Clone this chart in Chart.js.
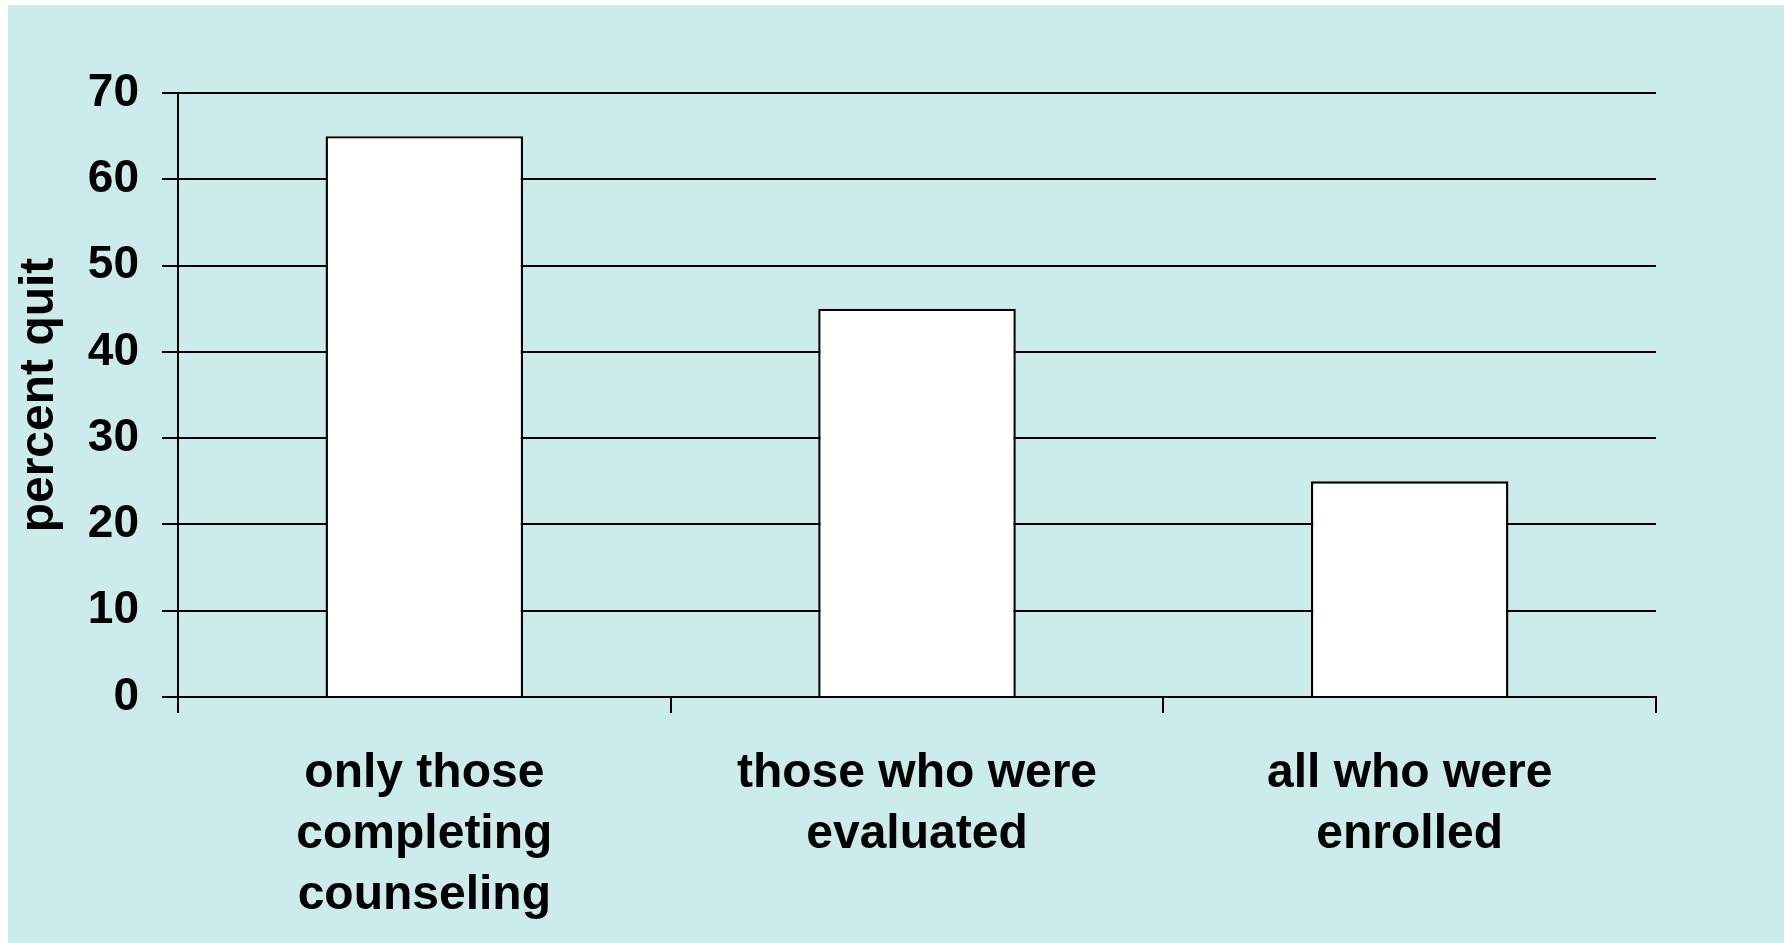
<!DOCTYPE html>
<html>
<head>
<meta charset="utf-8">
<title>percent quit</title>
<script src="https://cdn.jsdelivr.net/npm/chart.js@4/dist/chart.umd.min.js"></script>
<style>
  html, body { margin: 0; padding: 0; background: #ffffff; }
  canvas { display: block; }
</style>
</head>
<body>
<canvas id="chart" width="1784" height="943"></canvas>
<script>
// Quit rates by which participants are counted
const categories = [
  ['only those', 'completing', 'counseling'],
  ['those who were', 'evaluated'],
  ['all who were', 'enrolled']
];
const percentQuit = [65, 45, 25];
const yTicks = [0, 10, 20, 30, 40, 50, 60, 70];

const FONT = '"Liberation Sans", Arial, Helvetica, sans-serif';
const PANEL = 'rgb(204, 236, 236)';
const LINE = '#000000';

// Light panel behind the whole chart
const panelBackground = {
  id: 'panelBackground',
  beforeDraw(chart) {
    const { ctx, width, height } = chart;
    ctx.save();
    ctx.fillStyle = '#ffffff';
    ctx.fillRect(0, 0, width, height);
    ctx.fillStyle = PANEL;
    ctx.fillRect(8, 5, width - 8, height - 5);
    ctx.restore();
  }
};

new Chart(document.getElementById('chart'), {
  type: 'bar',
  data: {
    labels: categories,
    datasets: [{
      data: percentQuit,
      backgroundColor: '#ffffff',
      borderColor: LINE,
      borderWidth: 2.4,
      barPercentage: 0.401,
      categoryPercentage: 1.0
    }]
  },
  options: {
    responsive: false,
    devicePixelRatio: 1,
    animation: false,
    layout: { padding: { left: 0, top: 93, right: 128, bottom: 0 } },
    plugins: {
      legend: { display: false },
      tooltip: { enabled: false }
    },
    scales: {
      x: {
        type: 'category',
        afterFit(scale) { scale.height = 246; },
        border: { display: true, color: LINE, width: 2 },
        grid: {
          offset: true,
          drawOnChartArea: true,
          color: (c) => (c.index === 0 || c.index === categories.length) ? LINE : 'rgba(0,0,0,0)',
          tickColor: LINE,
          lineWidth: 2,
          tickLength: 16
        },
        ticks: {
          color: '#000000',
          padding: 30,
          maxRotation: 0,
          autoSkip: false,
          font: { family: FONT, size: 48, weight: 'bold', lineHeight: 1.27 }
        }
      },
      y: {
        min: 0,
        max: 70,
        afterFit(scale) { scale.width = 178; },
        afterBuildTicks(scale) { scale.ticks = yTicks.map(v => ({ value: v })); },
        border: { display: true, color: LINE, width: 2 },
        grid: {
          color: LINE,
          lineWidth: 2,
          tickLength: 16
        },
        ticks: {
          color: '#000000',
          padding: 23,
          font: { family: FONT, size: 46, weight: 'bold' }
        },
        title: {
          display: true,
          text: 'percent quit',
          color: '#000000',
          padding: { top: 16, bottom: 0 },
          font: { family: FONT, size: 48, weight: 'bold', lineHeight: 1 }
        }
      }
    }
  },
  plugins: [panelBackground]
});
</script>
</body>
</html>
